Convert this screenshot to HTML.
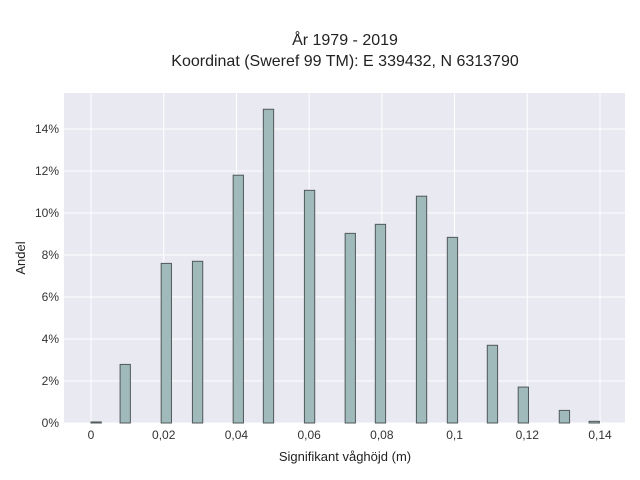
<!DOCTYPE html>
<html><head><meta charset="utf-8"><style>
body{margin:0;background:#fff;}
svg{display:block;font-family:"Liberation Sans",sans-serif;}
</style></head><body>
<svg id="chart" width="640" height="480">
<text x="345" y="45" text-anchor="middle" font-size="16" fill="#222">År 1979 - 2019</text>
<text x="345" y="66" text-anchor="middle" font-size="16" fill="#222">Koordinat (Sweref 99 TM): E 339432, N 6313790</text>
<rect x="64" y="93" width="561" height="330" fill="#e9e9f1"/>
<g id="grid"></g><g id="bars"></g><g id="ticks"></g>
<text x="345" y="461" text-anchor="middle" font-size="13" fill="#222">Signifikant våghöjd (m)</text>
<text transform="translate(25,258) rotate(-90)" text-anchor="middle" font-size="13" fill="#222">Andel</text>
</svg>
<script>
const binStarts=[0,0.008,0.0193,0.0279,0.0391,0.0474,0.0587,0.0699,0.0782,0.0895,0.098,0.109,0.1175,0.1288,0.137];
const shares=[0.05,2.79,7.6,7.7,11.8,14.94,11.08,9.03,9.46,10.8,8.84,3.7,1.71,0.6,0.08];
const binWidth=0.00283;
const xTicks=[0,0.02,0.04,0.06,0.08,0.1,0.12,0.14];
const xTickLabels=["0","0,02","0,04","0,06","0,08","0,1","0,12","0,14"];
const yTicks=[0,2,4,6,8,10,12,14];
const yTickLabels=["0%","2%","4%","6%","8%","10%","12%","14%"];
const NS="http://www.w3.org/2000/svg";
const X=v=>91+v*(509/0.14);
const Y=v=>423-v*21;
function mk(t,a,p){const e=document.createElementNS(NS,t);for(const k in a)e.setAttribute(k,a[k]);p.appendChild(e);return e;}
const g=document.getElementById('grid'),b=document.getElementById('bars'),tk=document.getElementById('ticks');
xTicks.forEach((v,i)=>{
 const l=mk('line',{x1:X(v),x2:X(v),y1:93,y2:423,stroke:'#fff','stroke-width':1},g);
 
 
 const t=mk('text',{x:X(v),y:439,'text-anchor':'middle','font-size':12,fill:'#333'},tk);
 t.textContent=xTickLabels[i];
 
 
});
yTicks.forEach((v,i)=>{
 const l=mk('line',{x1:64,x2:625,y1:Y(v),y2:Y(v),stroke:'#fff','stroke-width':1},g);
 
 
 const t=mk('text',{x:59,y:Y(v)+4,'text-anchor':'end','font-size':12,fill:'#333'},tk);
 t.textContent=yTickLabels[i];
 
 
});
binStarts.forEach((s,i)=>{
 const x0=X(s),x1=X(s+binWidth),y=Y(shares[i]);
 const r=mk('rect',{x:x0,y:y,width:x1-x0,height:423-y,fill:'#a0b9ba',stroke:'#50595a','stroke-width':1},b);
 
 
});
</script>
</body></html>
